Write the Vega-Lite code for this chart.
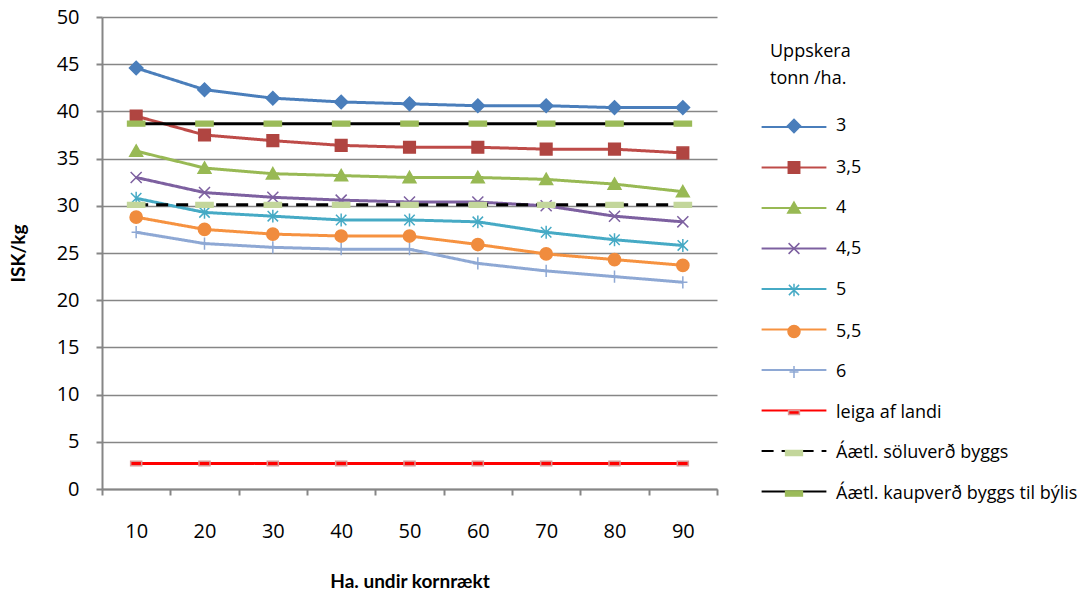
{
  "$schema": "https://vega.github.io/schema/vega-lite/v6.json",
  "width": 615,
  "height": 472,
  "autosize": {"type": "none"},
  "padding": {"left": 102, "top": 17, "right": 373, "bottom": 105},
  "background": "white",
  "config": {
    "font": "Open Sans",
    "view": {"stroke": null},
    "axis": {"domainColor": "#868686", "tickColor": "#868686", "gridColor": "#868686", "labelColor": "#000000", "titleColor": "#000000", "titleFont": "Lato", "labelFont": "Open Sans"}
  },
  "data": {"values": [
    {"x": 10, "series": "3", "v": 44.6}, {"x": 20, "series": "3", "v": 42.3}, {"x": 30, "series": "3", "v": 41.4}, {"x": 40, "series": "3", "v": 41.0}, {"x": 50, "series": "3", "v": 40.8}, {"x": 60, "series": "3", "v": 40.6}, {"x": 70, "series": "3", "v": 40.6}, {"x": 80, "series": "3", "v": 40.4}, {"x": 90, "series": "3", "v": 40.4},
    {"x": 10, "series": "3,5", "v": 39.5}, {"x": 20, "series": "3,5", "v": 37.5}, {"x": 30, "series": "3,5", "v": 36.9}, {"x": 40, "series": "3,5", "v": 36.4}, {"x": 50, "series": "3,5", "v": 36.2}, {"x": 60, "series": "3,5", "v": 36.2}, {"x": 70, "series": "3,5", "v": 36.0}, {"x": 80, "series": "3,5", "v": 36.0}, {"x": 90, "series": "3,5", "v": 35.6},
    {"x": 10, "series": "4", "v": 35.8}, {"x": 20, "series": "4", "v": 34.0}, {"x": 30, "series": "4", "v": 33.4}, {"x": 40, "series": "4", "v": 33.2}, {"x": 50, "series": "4", "v": 33.0}, {"x": 60, "series": "4", "v": 33.0}, {"x": 70, "series": "4", "v": 32.8}, {"x": 80, "series": "4", "v": 32.3}, {"x": 90, "series": "4", "v": 31.5},
    {"x": 10, "series": "4,5", "v": 33.0}, {"x": 20, "series": "4,5", "v": 31.4}, {"x": 30, "series": "4,5", "v": 30.9}, {"x": 40, "series": "4,5", "v": 30.6}, {"x": 50, "series": "4,5", "v": 30.4}, {"x": 60, "series": "4,5", "v": 30.4}, {"x": 70, "series": "4,5", "v": 30.0}, {"x": 80, "series": "4,5", "v": 28.9}, {"x": 90, "series": "4,5", "v": 28.3},
    {"x": 10, "series": "5", "v": 30.8}, {"x": 20, "series": "5", "v": 29.3}, {"x": 30, "series": "5", "v": 28.9}, {"x": 40, "series": "5", "v": 28.5}, {"x": 50, "series": "5", "v": 28.5}, {"x": 60, "series": "5", "v": 28.3}, {"x": 70, "series": "5", "v": 27.2}, {"x": 80, "series": "5", "v": 26.4}, {"x": 90, "series": "5", "v": 25.8},
    {"x": 10, "series": "5,5", "v": 28.8}, {"x": 20, "series": "5,5", "v": 27.5}, {"x": 30, "series": "5,5", "v": 27.0}, {"x": 40, "series": "5,5", "v": 26.8}, {"x": 50, "series": "5,5", "v": 26.8}, {"x": 60, "series": "5,5", "v": 25.9}, {"x": 70, "series": "5,5", "v": 24.9}, {"x": 80, "series": "5,5", "v": 24.3}, {"x": 90, "series": "5,5", "v": 23.7},
    {"x": 10, "series": "6", "v": 27.2}, {"x": 20, "series": "6", "v": 26.0}, {"x": 30, "series": "6", "v": 25.6}, {"x": 40, "series": "6", "v": 25.4}, {"x": 50, "series": "6", "v": 25.4}, {"x": 60, "series": "6", "v": 23.9}, {"x": 70, "series": "6", "v": 23.1}, {"x": 80, "series": "6", "v": 22.5}, {"x": 90, "series": "6", "v": 21.9},
    {"x": 10, "series": "leiga af landi", "v": 2.7}, {"x": 20, "series": "leiga af landi", "v": 2.7}, {"x": 30, "series": "leiga af landi", "v": 2.7}, {"x": 40, "series": "leiga af landi", "v": 2.7}, {"x": 50, "series": "leiga af landi", "v": 2.7}, {"x": 60, "series": "leiga af landi", "v": 2.7}, {"x": 70, "series": "leiga af landi", "v": 2.7}, {"x": 80, "series": "leiga af landi", "v": 2.7}, {"x": 90, "series": "leiga af landi", "v": 2.7},
    {"x": 10, "series": "Áætl. söluverð byggs", "v": 30.1}, {"x": 20, "series": "Áætl. söluverð byggs", "v": 30.1}, {"x": 30, "series": "Áætl. söluverð byggs", "v": 30.1}, {"x": 40, "series": "Áætl. söluverð byggs", "v": 30.1}, {"x": 50, "series": "Áætl. söluverð byggs", "v": 30.1}, {"x": 60, "series": "Áætl. söluverð byggs", "v": 30.1}, {"x": 70, "series": "Áætl. söluverð byggs", "v": 30.1}, {"x": 80, "series": "Áætl. söluverð byggs", "v": 30.1}, {"x": 90, "series": "Áætl. söluverð byggs", "v": 30.1},
    {"x": 10, "series": "Áætl. kaupverð byggs til býlis", "v": 38.7}, {"x": 20, "series": "Áætl. kaupverð byggs til býlis", "v": 38.7}, {"x": 30, "series": "Áætl. kaupverð byggs til býlis", "v": 38.7}, {"x": 40, "series": "Áætl. kaupverð byggs til býlis", "v": 38.7}, {"x": 50, "series": "Áætl. kaupverð byggs til býlis", "v": 38.7}, {"x": 60, "series": "Áætl. kaupverð byggs til býlis", "v": 38.7}, {"x": 70, "series": "Áætl. kaupverð byggs til býlis", "v": 38.7}, {"x": 80, "series": "Áætl. kaupverð byggs til býlis", "v": 38.7}, {"x": 90, "series": "Áætl. kaupverð byggs til býlis", "v": 38.7}
  ]},
  "encoding": {
    "x": {
      "field": "x", "type": "ordinal",
      "scale": {"type": "band", "paddingInner": 0, "paddingOuter": 0},
      "axis": {
        "title": "Ha. undir kornrækt", "titleFontSize": 19, "titleFontWeight": "bold", "titlePadding": 31,
        "labelAngle": 0, "labelFontSize": 20, "labelPadding": 26,
        "tickBand": "extent", "tickSize": 6, "tickWidth": 2, "domainWidth": 2, "grid": false
      }
    },
    "y": {
      "field": "v", "type": "quantitative",
      "scale": {"domain": [0, 50], "nice": false, "zero": true},
      "axis": {
        "title": "ISK/kg", "titleFontSize": 19, "titleFontWeight": "bold", "titlePadding": 28,
        "values": [0, 5, 10, 15, 20, 25, 30, 35, 40, 45, 50],
        "labelFontSize": 20, "labelPadding": 17, "tickSize": 6, "tickWidth": 2, "domainWidth": 2,
        "grid": true, "gridWidth": 1.5
      }
    }
  },
  "layer": [
    {
      "mark": {"type": "line", "strokeWidth": 3},
      "encoding": {
        "color": {
          "field": "series", "type": "nominal",
          "scale": {
            "domain": ["3", "3,5", "4", "4,5", "5", "5,5", "6", "leiga af landi", "Áætl. söluverð byggs", "Áætl. kaupverð byggs til býlis", "_"],
            "range": ["#4A7EBB", "#BE4B48", "#98B954", "#7D60A0", "#46AAC5", "#F69240", "#8EA8D4", "#FF0000", "#000000", "#000000", "#000000"]
          },
          "legend": {
            "values": ["3", "3,5", "4", "4,5", "5", "5,5", "6", "leiga af landi", "Áætl. söluverð byggs", "Áætl. kaupverð byggs til býlis"],
            "orient": "none", "legendX": 668, "legendY": 101, "padding": 0,
            "title": null, "labelExpr": "''", "labelFontSize": 18, "labelOffset": 33, "rowPadding": 22.5,
            "symbolType": "M-5.4,0H5.4", "symbolSize": 144, "symbolStrokeWidth": 2, "symbolOffset": 15
          }
        },
        "strokeDash": {
          "field": "series", "type": "nominal",
          "scale": {
            "domain": ["3", "3,5", "4", "4,5", "5", "5,5", "6", "leiga af landi", "Áætl. söluverð byggs", "Áætl. kaupverð byggs til býlis", "_"],
            "range": [[1, 0], [1, 0], [1, 0], [1, 0], [1, 0], [1, 0], [1, 0], [1, 0], [12, 8], [1, 0], [1, 0]]
          },
          "legend": {
            "values": ["3", "3,5", "4", "4,5", "5", "5,5", "6", "leiga af landi", "Áætl. söluverð byggs", "Áætl. kaupverð byggs til býlis"],
            "orient": "none", "legendX": 668, "legendY": 101, "padding": 0,
            "title": null, "labelExpr": "''", "labelFontSize": 18, "labelOffset": 33, "rowPadding": 22.5,
            "symbolType": "M-5.4,0H5.4", "symbolSize": 144, "symbolStrokeWidth": 2, "symbolOffset": 15
          }
        }
      }
    },
    {
      "mark": {"type": "point", "size": 150, "strokeWidth": 1.5, "opacity": 1},
      "encoding": {
        "fill": {
          "field": "series", "type": "nominal",
          "scale": {
            "domain": ["3", "3,5", "4", "4,5", "5", "5,5", "6", "leiga af landi", "Áætl. söluverð byggs", "Áætl. kaupverð byggs til býlis"],
            "range": ["#4A7EBB", "#B04541", "#98B954", "#7D60A0", "#46AAC5", "#F08C3E", "#8EA8D4", "#FF0000", "#C3D69B", "#9BBB59"]
          },
          "legend": {
            "orient": "none", "legendX": 668, "legendY": 26, "padding": 0,
            "title": ["Uppskera", "tonn /ha."], "titleFont": "Open Sans", "titleFontSize": 18, "titleFontWeight": "normal", "titleLineHeight": 27, "titlePadding": 29, "titleColor": "#000000",
            "labelFont": "Open Sans", "labelFontSize": 18, "labelOffset": 33, "rowPadding": 22.5, "labelColor": "#000000", "labelLimit": 400,
            "symbolSize": 144, "symbolStrokeWidth": 1.5, "symbolOffset": 15
          }
        },
        "stroke": {
          "field": "series", "type": "nominal",
          "scale": {
            "domain": ["3", "3,5", "4", "4,5", "5", "5,5", "6", "leiga af landi", "Áætl. söluverð byggs", "Áætl. kaupverð byggs til býlis"],
            "range": ["#4A7EBB", "#B04541", "#98B954", "#7D60A0", "#46AAC5", "#F08C3E", "#8EA8D4", "#D99694", "#C3D69B", "#9BBB59"]
          },
          "legend": {
            "orient": "none", "legendX": 668, "legendY": 26, "padding": 0,
            "title": ["Uppskera", "tonn /ha."], "titleFont": "Open Sans", "titleFontSize": 18, "titleFontWeight": "normal", "titleLineHeight": 27, "titlePadding": 29, "titleColor": "#000000",
            "labelFont": "Open Sans", "labelFontSize": 18, "labelOffset": 33, "rowPadding": 22.5, "labelColor": "#000000", "labelLimit": 400,
            "symbolSize": 144, "symbolStrokeWidth": 1.5, "symbolOffset": 15
          }
        },
        "shape": {
          "field": "series", "type": "nominal",
          "scale": {
            "domain": ["3", "3,5", "4", "4,5", "5", "5,5", "6", "leiga af landi", "Áætl. söluverð byggs", "Áætl. kaupverð byggs til býlis"],
            "range": [
              "M0,-1.1L1.1,0L0,1.1L-1.1,0Z",
              "M-0.95,-0.95H0.95V0.95H-0.95Z",
              "M0,-1L1.05,0.85H-1.05Z",
              "M-0.9,-0.9L0.9,0.9M-0.9,0.9L0.9,-0.9",
              "M-0.85,-0.85L0.85,0.85M-0.85,0.85L0.85,-0.85M0,-1.05V1.05",
              "circle",
              "M0,-1V1M-0.75,0H0.75",
              "M-0.9,-0.35H0.9V0.35H-0.9Z",
              "M-1.4,-0.4H1.4V0.4H-1.4Z",
              "M-1.4,-0.4H1.4V0.4H-1.4Z"
            ]
          },
          "legend": {
            "orient": "none", "legendX": 668, "legendY": 26, "padding": 0,
            "title": ["Uppskera", "tonn /ha."], "titleFont": "Open Sans", "titleFontSize": 18, "titleFontWeight": "normal", "titleLineHeight": 27, "titlePadding": 29, "titleColor": "#000000",
            "labelFont": "Open Sans", "labelFontSize": 18, "labelOffset": 33, "rowPadding": 22.5, "labelColor": "#000000", "labelLimit": 400,
            "symbolSize": 144, "symbolStrokeWidth": 1.5, "symbolOffset": 15
          }
        }
      }
    }
  ]
}
